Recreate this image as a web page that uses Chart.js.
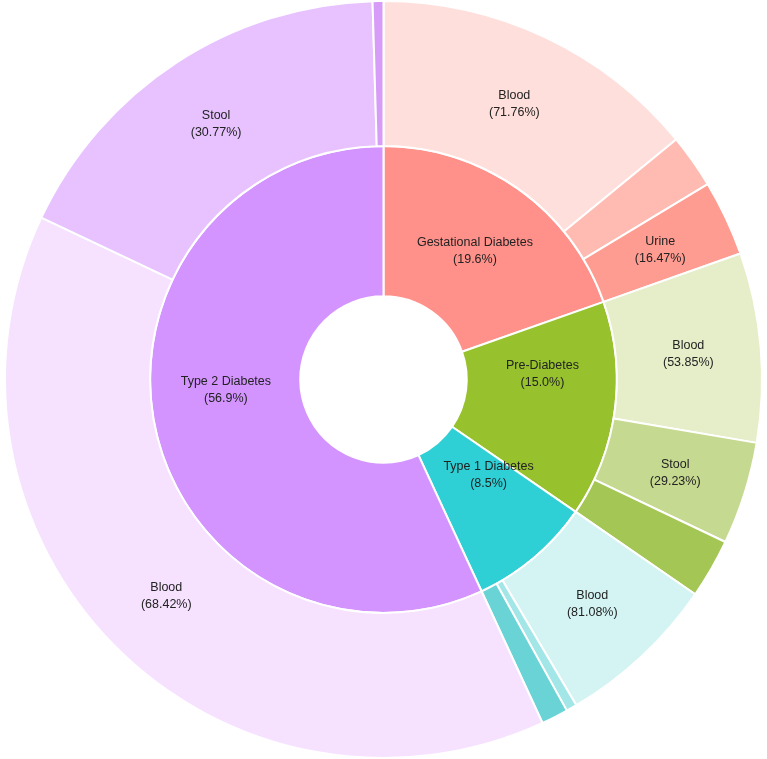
<!DOCTYPE html>
<html>
<head>
<meta charset="utf-8">
<script src="https://cdn.jsdelivr.net/npm/chart.js@4"></script>
<style>
  html, body { margin: 0; padding: 0; background: #fff; }
  #wrap { width: 767px; height: 759px; }
</style>
</head>
<body>
<div id="wrap"><canvas id="sunburst" width="767" height="759"></canvas></div>
<script>
// ---- data ----
const groups = ['Gestational Diabetes', 'Pre-Diabetes', 'Type 1 Diabetes', 'Type 2 Diabetes'];
const groupShare = [19.6, 15.0, 8.5, 56.9];

// sample types inside each group (% of the group)
const gestSamples = ['Blood', 'Other', 'Urine'];
const gestPct     = [71.76, 11.77, 16.47];
const preSamples  = ['Blood', 'Stool', 'Other'];
const prePct      = [53.85, 29.23, 16.92];
const t1Samples   = ['Blood', 'Other', 'Other'];
const t1Pct       = [81.08, 5.41, 13.51];
const t2Samples   = ['Blood', 'Stool', 'Other'];
const t2Pct       = [68.42, 30.77, 0.81];

// ---- colours ----
const innerColors = ['#FF918A', '#97C22D', '#2ECFD5', '#D494FF'];
const outerColors = [
  ['#FFDFDB', '#FFBBB2', '#FF9C92'],
  ['#E5EEC8', '#C6D990', '#A4C654'],
  ['#D4F4F4', '#A3E6E7', '#6AD3D5'],
  ['#F6E2FF', '#E8C2FF', '#D79BF8'],
];

// build outer ring (share of the whole)
const subSets = [[gestSamples, gestPct], [preSamples, prePct], [t1Samples, t1Pct], [t2Samples, t2Pct]];
const outerLabels = [], outerPct = [], outerVals = [], outerBg = [];
subSets.forEach(([names, pcts], g) => {
  names.forEach((n, i) => {
    outerLabels.push(n);
    outerPct.push(pcts[i]);
    outerVals.push(groupShare[g] * pcts[i] / 100);
    outerBg.push(outerColors[g][i]);
  });
});

// draws "name (pct%)" inside each arc that has room for it
const arcLabels = {
  id: 'arcLabels',
  afterDatasetsDraw(chart, args, opts) {
    const ctx = chart.ctx;
    ctx.save();
    ctx.font = '12.5px "Liberation Sans", Arial, sans-serif';
    ctx.fillStyle = '#222';
    ctx.textAlign = 'center';
    ctx.textBaseline = 'middle';
    chart.data.datasets.forEach((ds, di) => {
      const meta = chart.getDatasetMeta(di);
      meta.data.forEach((arc, i) => {
        const p = arc.getProps(['x', 'y', 'startAngle', 'endAngle', 'innerRadius', 'outerRadius'], true);
        const mid = (p.startAngle + p.endAngle) / 2;
        const r = (p.innerRadius + p.outerRadius) / 2;
        if ((p.endAngle - p.startAngle) * r < opts.minArc) return;
        const nudge = (opts.nudge[di] || {})[i] || [0, 0];
        const x = p.x + Math.cos(mid) * r + nudge[0];
        const y = p.y + Math.sin(mid) * r + nudge[1];
        ctx.fillText(ds.labels[i], x, y - 7.5);
        ctx.fillText('(' + ds.pct[i] + '%)', x, y + 9.5);
      });
    });
    ctx.restore();
  }
};

new Chart(document.getElementById('sunburst'), {
  type: 'doughnut',
  data: {
    datasets: [
      { labels: outerLabels, pct: outerPct, data: outerVals, backgroundColor: outerBg, weight: 145 },
      { labels: groups, pct: groupShare.map(v => v.toFixed(1)), data: groupShare, backgroundColor: innerColors, weight: 150 },
    ]
  },
  options: {
    responsive: false,
    animation: false,
    cutout: '22%',
    borderColor: '#fff',
    borderWidth: 2,
    layout: { padding: 0 },
    plugins: {
      legend: { display: false },
      tooltip: { enabled: false },
      arcLabels: {
        minArc: 55,
        nudge: { 1: { 1: [2, -27], 2: [3, -26], 3: [-3, -25] } }
      }
    }
  },
  plugins: [arcLabels]
});
</script>
</body>
</html>
